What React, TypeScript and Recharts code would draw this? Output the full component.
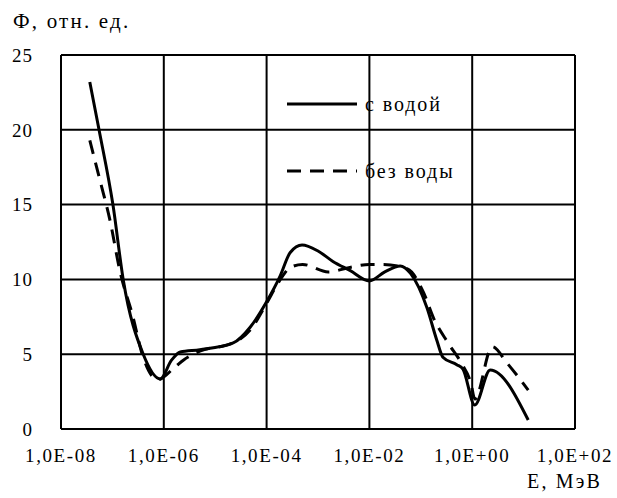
import React from "react";
import { LineChart, Line, XAxis, YAxis, CartesianGrid } from "recharts";

// x = log10(E, МэВ)
const withWaterX = [-7.44, -7.26, -6.99, -6.79, -6.4, -6.07, -5.85, -5.68, -5.3, -4.65, -4.32, -4.0, -3.74, -3.54, -3.31, -3.0, -2.71, -2.38, -2.0, -1.7, -1.4, -1.2, -0.88, -0.69, -0.57, -0.3, -0.18, 0.05, 0.35, 1.09];
const withWaterY = [23.2, 20.0, 15.0, 10.0, 5.0, 3.35, 4.6, 5.15, 5.3, 5.75, 6.8, 8.5, 10.2, 11.8, 12.3, 11.9, 11.2, 10.6, 9.9, 10.5, 10.9, 10.4, 8.1, 5.95, 4.8, 4.3, 4.0, 1.6, 3.95, 0.6];

const noWaterX = [-7.44, -7.24, -7.05, -6.85, -6.6, -6.42, -6.12, -5.78, -5.62, -5.3, -4.65, -4.3, -4.0, -3.75, -3.54, -3.3, -2.8, -2.38, -2.0, -1.73, -1.26, -0.95, -0.75, -0.47, -0.21, -0.02, 0.05, 0.39, 0.68, 1.09];
const noWaterY = [19.3, 16.6, 14.0, 10.5, 7.5, 5.0, 3.3, 4.15, 4.6, 5.2, 5.75, 6.7, 8.4, 9.9, 10.8, 11.0, 10.5, 10.8, 11.0, 11.0, 10.7, 9.15, 7.4, 5.75, 4.4, 3.0, 2.0, 5.5, 4.4, 2.6];

const xTicks = [-8, -6, -4, -2, 0, 2];
const yTicks = [0, 5, 10, 15, 20, 25];

const seriesWater = withWaterX.map((x, i) => ({ x, y: withWaterY[i] }));
const seriesDry = noWaterX.map((x, i) => ({ x, y: noWaterY[i] }));

const fmtE = (v: number) => {
  const sign = v < 0 ? "-" : "+";
  const p = String(Math.abs(v)).padStart(2, "0");
  return `1,0E${sign}${p}`;
};

const font = "'Liberation Serif', 'DejaVu Serif', serif";

function LegendBox() {
  return (
    <div style={{ position: "absolute", left: 287, top: 89, fontFamily: font, fontSize: 20, letterSpacing: 1.9, color: "#000" }}>
      <div style={{ display: "flex", alignItems: "center", height: 30 }}>
        <svg width={78} height={10}>
          <line x1={0} y1={5} x2={70} y2={5} stroke="#000" strokeWidth={3} />
        </svg>
        <span>с водой</span>
      </div>
      <div style={{ display: "flex", alignItems: "center", height: 30, marginTop: 37 }}>
        <svg width={78} height={10}>
          <line x1={0} y1={5} x2={70} y2={5} stroke="#000" strokeWidth={3} strokeDasharray="14 9" />
        </svg>
        <span>без воды</span>
      </div>
    </div>
  );
}

export default function App() {
  return (
    <div style={{ position: "absolute", left: 0, top: 0, width: 617, height: 498, background: "#fff", fontFamily: font }}>
      <div style={{ position: "absolute", left: 13, top: 9, fontSize: 21, letterSpacing: 2.2 }}>Ф, отн. ед.</div>
      <div style={{ position: "absolute", left: 527, top: 470, fontSize: 20, letterSpacing: 2.2 }}>E, МэВ</div>
      <LineChart width={617} height={498} margin={{ top: 55, right: 42, bottom: 39, left: 11 }}>
        <CartesianGrid stroke="#000" strokeWidth={2} horizontalValues={yTicks} verticalValues={xTicks} />
        <XAxis
          type="number"
          dataKey="x"
          domain={[-8, 2]}
          ticks={xTicks}
          tickFormatter={fmtE}
          axisLine={false}
          tickLine={false}
          tickMargin={14}
          height={30}
          tick={{ fill: "#000", fontSize: 19, fontFamily: font, letterSpacing: 1.6 }}
          allowDataOverflow
        />
        <YAxis
          type="number"
          domain={[0, 25]}
          ticks={yTicks}
          width={50}
          axisLine={false}
          tickLine={false}
          tickMargin={22}
          tick={{ fill: "#000", fontSize: 19, fontFamily: font, letterSpacing: 1 }}
        />
        <Line data={seriesWater} dataKey="y" name="с водой" type="monotone" stroke="#000" strokeWidth={3} dot={false} isAnimationActive={false} />
        <Line data={seriesDry} dataKey="y" name="без воды" type="monotone" stroke="#000" strokeWidth={3} strokeDasharray="14 9" dot={false} isAnimationActive={false} />
      </LineChart>
      <LegendBox />
    </div>
  );
}
